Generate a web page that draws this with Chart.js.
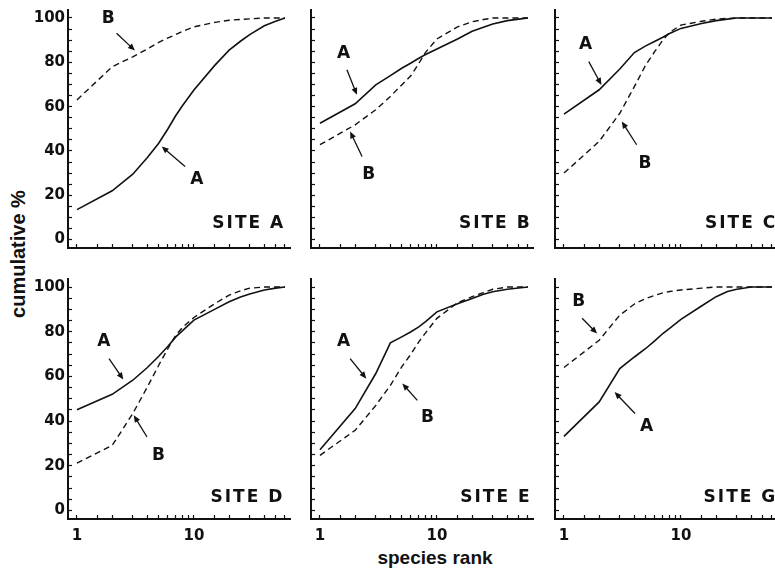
<!DOCTYPE html>
<html>
<head>
<meta charset="utf-8">
<script src="https://cdn.jsdelivr.net/npm/chart.js@4.4.1/dist/chart.umd.min.js"></script>
<style>
  body { margin: 0; background: #fff; width: 775px; height: 570px; overflow: hidden; position: relative; }
  canvas { position: absolute; }
  .title { position: absolute; font: bold 19px "Liberation Sans", Arial, sans-serif; color: #111; white-space: nowrap; transform: translate(-50%, -50%); }
  #ytitle { left: 18px; top: 254px; font-size: 20px; transform: translate(-50%, -50%) rotate(-90deg); }
  #xtitle { left: 435px; top: 558px; }
</style>
</head>
<body>
<div class="title" id="ytitle">cumulative %</div>
<div class="title" id="xtitle">species rank</div>
<script>
// species rank (log axis) and cumulative % for curve A (solid) and B (dashed)
const ranks = [1, 2, 3, 4, 5, 6, 7, 8, 10, 15, 20, 25, 30, 40, 50, 60];
const siteA_A = [13.5, 22, 29.5, 37, 43.5, 50, 56, 60.5, 67.5, 78.5, 85.5, 89.5, 92.5, 96.5, 98.5, 100];
const siteA_B = [63, 78, 82.5, 86, 89, 91, 92.5, 94, 96, 98, 99, 99.3, 99.6, 100, 100, 100];
const siteB_A = [52.5, 61.3, 69.8, 74, 77.3, 79.7, 81.8, 83.5, 86, 90.5, 94, 95.8, 97.3, 98.8, 99.5, 100];
const siteB_B = [42.8, 51.8, 58.6, 64.6, 69.8, 74, 79.5, 84.5, 90.5, 96, 98.3, 99.3, 100, 100, 100, 100];
const siteC_A = [56.6, 67.6, 77, 84.4, 87.4, 89.5, 91.3, 93, 95.3, 97.5, 98.8, 99.5, 100, 100, 100, 100];
const siteC_B = [30, 44.3, 57, 69, 78.8, 85, 90, 93.5, 96.8, 98.5, 99.5, 99.8, 100, 100, 100, 100];
const siteD_A = [45.1, 52, 58.3, 64, 69, 73.5, 77.7, 80.5, 85.2, 90, 93.4, 95.5, 96.9, 98.7, 99.5, 100];
const siteD_B = [21.2, 29.1, 43.4, 55.3, 65, 72.5, 78.5, 82, 86.4, 92.5, 96.4, 98.3, 99.5, 100, 100, 100];
const siteE_A = [27.2, 45.6, 61.3, 75, 77.7, 80, 82.2, 84.5, 88.9, 92.5, 94.9, 96.8, 97.9, 99, 99.6, 100];
const siteE_B = [24.7, 35.9, 47, 56, 64.3, 70, 75.5, 79.5, 86, 93, 95.7, 97.5, 99, 100, 100, 100];
const siteG_A = [33.2, 48.6, 63.5, 68.7, 72.5, 76, 79.2, 81.5, 85.5, 91.5, 95.7, 98, 99, 100, 100, 100];
const siteG_B = [64, 76.2, 87.4, 92.4, 94.9, 96.3, 97.4, 98, 98.7, 99.5, 100, 100, 100, 100, 100, 100];

const xTickLabels = [1, 10];
const yTickLabels = [0, 20, 40, 60, 80, 100];
const yTickMarks = [0, 5, 10, 15, 20, 25, 30, 35, 40, 45, 50, 55, 60, 65, 70, 75, 80, 85, 90, 95, 100];

// panel grid and annotations (label, label x/y, arrow tail x/y, arrow head x/y)
const panels = [
  { site: 'SITE A', col: 0, row: 0, a: siteA_A, b: siteA_B, siteX: 58, siteY: 7,
    notes: [['B', 1.85, 99.8, 2.18, 93.1, 3.13, 85.3], ['A', 10.6, 27, 8.4, 33, 5.3, 42]] },
  { site: 'SITE B', col: 1, row: 0, a: siteB_A, b: siteB_B, siteX: 62, siteY: 7,
    notes: [['A', 1.59, 84.1, 1.7, 76.6, 2.07, 65.3], ['B', 2.61, 29.3, 2.29, 37.5, 1.81, 48.8]] },
  { site: 'SITE C', col: 2, row: 0, a: siteC_A, b: siteC_B, siteX: 64, siteY: 7,
    notes: [['A', 1.53, 87.8, 1.63, 80.3, 2.09, 69.8], ['B', 4.93, 34.5, 4.18, 42.8, 3.12, 53.3]] },
  { site: 'SITE D', col: 0, row: 1, a: siteD_A, b: siteD_B, siteX: 57, siteY: 6,
    notes: [['A', 1.7, 75.5, 1.88, 68, 2.49, 58.6], ['B', 4.98, 24.7, 3.97, 32.9, 3.06, 42.6]] },
  { site: 'SITE E', col: 1, row: 1, a: siteE_A, b: siteE_B, siteX: 62, siteY: 6,
    notes: [['A', 1.59, 75.5, 1.81, 68, 2.49, 59], ['B', 8.3, 41.8, 6.8, 49.3, 5.06, 56.8]] },
  { site: 'SITE G', col: 2, row: 1, a: siteG_A, b: siteG_B, siteX: 64, siteY: 6,
    notes: [['B', 1.34, 93.4, 1.43, 86, 1.92, 79.2], ['A', 5.08, 37.4, 4.05, 43.4, 2.71, 53]] }
];

const colLeft = [68, 311, 555];
const rowTop = [10, 279];
const rowH = [238, 240];
const axisH = [12, 30];
const plotW = 222;
const yAxisW = 68;
const ink = '#111';

const notePlugin = {
  id: 'notes',
  afterDatasetsDraw(chart, args, opts) {
    const { ctx } = chart;
    const sx = chart.scales.x, sy = chart.scales.y;
    ctx.save();
    ctx.fillStyle = ink;
    ctx.strokeStyle = ink;
    ctx.lineWidth = 1.3;
    ctx.font = 'bold 17px "DejaVu Sans"';
    ctx.textAlign = 'center';
    ctx.textBaseline = 'middle';
    opts.notes.forEach(n => {
      ctx.fillText(n[0], sx.getPixelForValue(n[1]), sy.getPixelForValue(n[2]));
      const x1 = sx.getPixelForValue(n[3]), y1 = sy.getPixelForValue(n[4]);
      const x2 = sx.getPixelForValue(n[5]), y2 = sy.getPixelForValue(n[6]);
      const ang = Math.atan2(y2 - y1, x2 - x1);
      ctx.beginPath();
      ctx.moveTo(x1, y1);
      ctx.lineTo(x2 - 5 * Math.cos(ang), y2 - 5 * Math.sin(ang));
      ctx.stroke();
      ctx.beginPath();
      ctx.moveTo(x2, y2);
      ctx.lineTo(x2 - 7 * Math.cos(ang) + 3 * Math.sin(ang), y2 - 7 * Math.sin(ang) - 3 * Math.cos(ang));
      ctx.lineTo(x2 - 7 * Math.cos(ang) - 3 * Math.sin(ang), y2 - 7 * Math.sin(ang) + 3 * Math.cos(ang));
      ctx.closePath();
      ctx.fill();
    });
    ctx.letterSpacing = '2px';
    ctx.textAlign = 'right';
    ctx.fillText(opts.site, sx.getPixelForValue(opts.siteX) + 2, sy.getPixelForValue(opts.siteY));
    ctx.restore();
  }
};

const tickFont = { family: 'DejaVu Sans', weight: 'bold', size: 15 };

function noPad(s) {
  s.paddingTop = 0;
  s.paddingBottom = 0;
  s.paddingLeft = 0;
  s.paddingRight = 0;
}

panels.forEach(p => {
  const cv = document.createElement('canvas');
  const w = yAxisW + plotW + 8;
  const h = 6 + rowH[p.row] + axisH[p.row];
  cv.width = w;
  cv.height = h;
  cv.style.left = (colLeft[p.col] - yAxisW) + 'px';
  cv.style.top = (rowTop[p.row] - 6) + 'px';
  document.body.appendChild(cv);

  new Chart(cv, {
    type: 'line',
    data: {
      datasets: [{
        label: 'A',
        data: ranks.map((r, i) => ({ x: r, y: p.a[i] })),
        borderColor: ink,
        borderWidth: 1.6,
        pointRadius: 0,
        tension: 0,
        fill: false
      }, {
        label: 'B',
        data: ranks.map((r, i) => ({ x: r, y: p.b[i] })),
        borderColor: ink,
        borderWidth: 1.4,
        borderDash: [6, 4],
        pointRadius: 0,
        tension: 0,
        fill: false
      }]
    },
    options: {
      responsive: false,
      animation: false,
      events: [],
      layout: { padding: { top: 6, right: 8, left: 0, bottom: 0 } },
      plugins: {
        legend: { display: false },
        tooltip: { enabled: false },
        notes: { notes: p.notes, site: p.site, siteX: p.siteX, siteY: p.siteY }
      },
      scales: {
        x: {
          type: 'logarithmic',
          min: 0.838,
          max: 66.3,
          afterFit: s => { s.height = axisH[p.row]; noPad(s); },
          afterBuildTicks: s => { s.ticks = s.ticks.filter(t => t.value >= 0.99 && t.value <= 60.01); },
          grid: { drawOnChartArea: false, tickLength: -4, tickColor: ink, tickWidth: 1.2 },
          border: { color: ink, width: 2 },
          ticks: {
            display: p.row === 1,
            autoSkip: false,
            maxRotation: 0,
            padding: 12,
            color: ink,
            font: tickFont,
            callback: v => xTickLabels.includes(v) ? String(v) : ''
          }
        },
        y: {
          min: -3.8,
          max: 103.6,
          afterFit: s => { s.width = yAxisW; noPad(s); },
          afterBuildTicks: s => { s.ticks = yTickMarks.map(v => ({ value: v })); },
          grid: { drawOnChartArea: false, tickLength: -4, tickColor: ink, tickWidth: 1.2 },
          border: { color: ink, width: 2 },
          ticks: {
            display: p.col === 0,
            autoSkip: false,
            padding: 7,
            color: ink,
            font: tickFont,
            callback: v => yTickLabels.includes(v) ? String(v) : ''
          }
        }
      }
    },
    plugins: [notePlugin]
  });
});
</script>
</body>
</html>
